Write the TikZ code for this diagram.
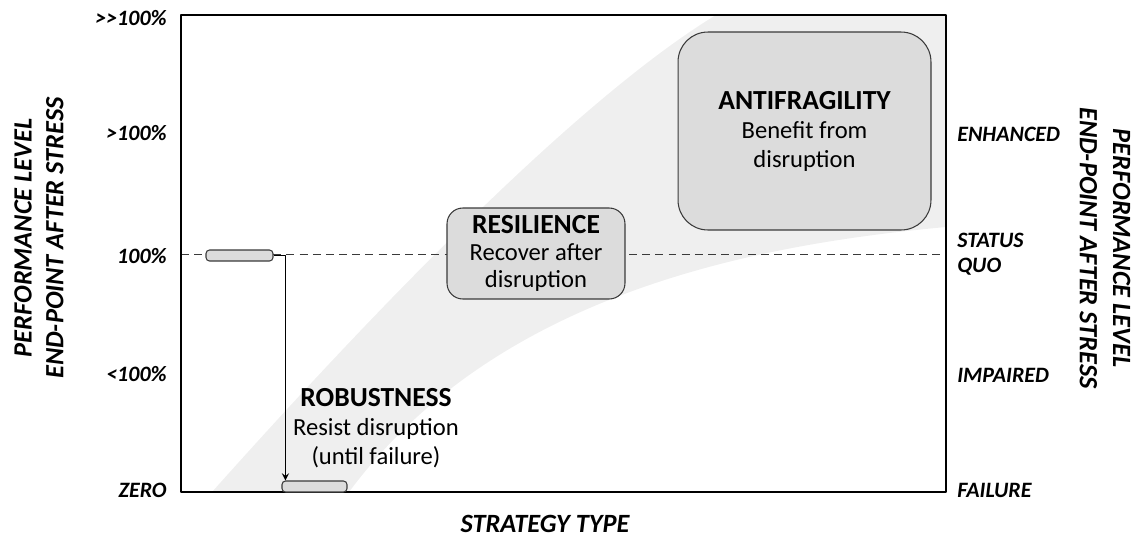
\documentclass[tikz,border=0pt]{standalone}
\usepackage{fontspec}
\setmainfont{Carlito}
\definecolor{band}{HTML}{EFEFEF}
\definecolor{boxfill}{HTML}{DCDCDC}
\definecolor{edge}{HTML}{3A3A3A}
\begin{document}
\begin{tikzpicture}[x=0.02cm, y=-0.02cm, >=stealth, line join=round,
	pct/.style={font=\fontsize{12.5}{14}\selectfont\bfseries\itshape, inner sep=0pt, anchor=east},
	cond/.style={font=\fontsize{12.5}{14}\selectfont\bfseries\itshape, inner sep=0pt, anchor=west, align=left},
	axtitle/.style={font=\bfseries\itshape, align=center, inner sep=0pt},
	zone/.style={draw=edge, fill=boxfill, line width=0.6pt, inner sep=0pt, align=center},
	stub/.style={draw=edge, fill=boxfill, line width=0.6pt, rounded corners=2pt, minimum height=0.22cm, inner sep=0pt}]
	\def\xl{181} \def\xr{946}
	\def\yt{15} \def\yb{492}
	\useasboundingbox (0,0) rectangle (1140,538);
	%band of strategies
	\fill[band] (212,\yb) .. controls (330,360) and (560,110) .. (716,\yt) -- (\xr,\yt) -- (\xr,227)
		.. controls (750,245) and (495,295) .. (349,\yb) -- cycle;
	%status quo level
	\draw[edge, dash pattern=on 4.5pt off 3pt, line width=0.5pt] (\xl,254) -- (\xr,254);
	\draw[line width=1.4pt] (\xl,\yt) rectangle (\xr,\yb);
	%levels, left
	\node[pct] (pmax) at (167,18) {>{}>100\%};
	\node[pct] (pup) at (167,133) {>100\%};
	\node[pct] (pmid) at (167,256) {100\%};
	\node[pct] (plow) at (167,374) {<100\%};
	\node[pct] (pzero) at (167,490) {ZERO};
	%levels, right
	\node[cond] (enh) at (957,134) {ENHANCED};
	\node[cond] (quo) at (957,254) {STATUS\\QUO};
	\node[cond] (imp) at (957,375) {IMPAIRED};
	\node[cond] (fail) at (957,490) {FAILURE};
	%axis titles
	\node[axtitle, rotate=90, font=\fontsize{15}{18}\selectfont\bfseries\itshape] (ytitle) at (39,238) {PERFORMANCE LEVEL\\END-POINT AFTER STRESS};
	\node[axtitle, rotate=-90, font=\fontsize{15}{19}\selectfont\bfseries\itshape] (ytitle2) at (1105,248) {PERFORMANCE LEVEL\\END-POINT AFTER STRESS};
	\node[axtitle, font=\fontsize{15}{18}\selectfont\bfseries\itshape] (xtitle) at (545,524) {STRATEGY TYPE};
	%strategies
	\node[zone, minimum width=5.06cm, minimum height=3.96cm, rounded corners=17pt, font=\fontsize{14}{16.5}\selectfont] (anti) at (804.5,131)
		{{\fontsize{15.7}{16.5}\selectfont\bfseries ANTIFRAGILITY}\\Benefit from\\disruption};
	\node[zone, minimum width=3.56cm, minimum height=1.82cm, rounded corners=9pt, font=\fontsize{14}{15.3}\selectfont] (resil) at (536,253.5)
		{{\fontsize{15.7}{15.3}\selectfont\bfseries RESILIENCE}\\Recover after\\disruption};
	\node[align=center, inner sep=0pt, font=\fontsize{14}{16.7}\selectfont] (robust) at (376,428)
		{{\fontsize{15.7}{16.7}\selectfont\bfseries ROBUSTNESS}\\Resist disruption\\(until failure)};
	\node[stub, minimum width=1.34cm] (robtop) at (239.5,255.5) {};
	\node[stub, minimum width=1.3cm] (robbot) at (314.5,486.5) {};
	\draw[->, line width=0.8pt] (robtop.east) -| ([xshift=0.08cm]robbot.north west);
\end{tikzpicture}
\end{document}
